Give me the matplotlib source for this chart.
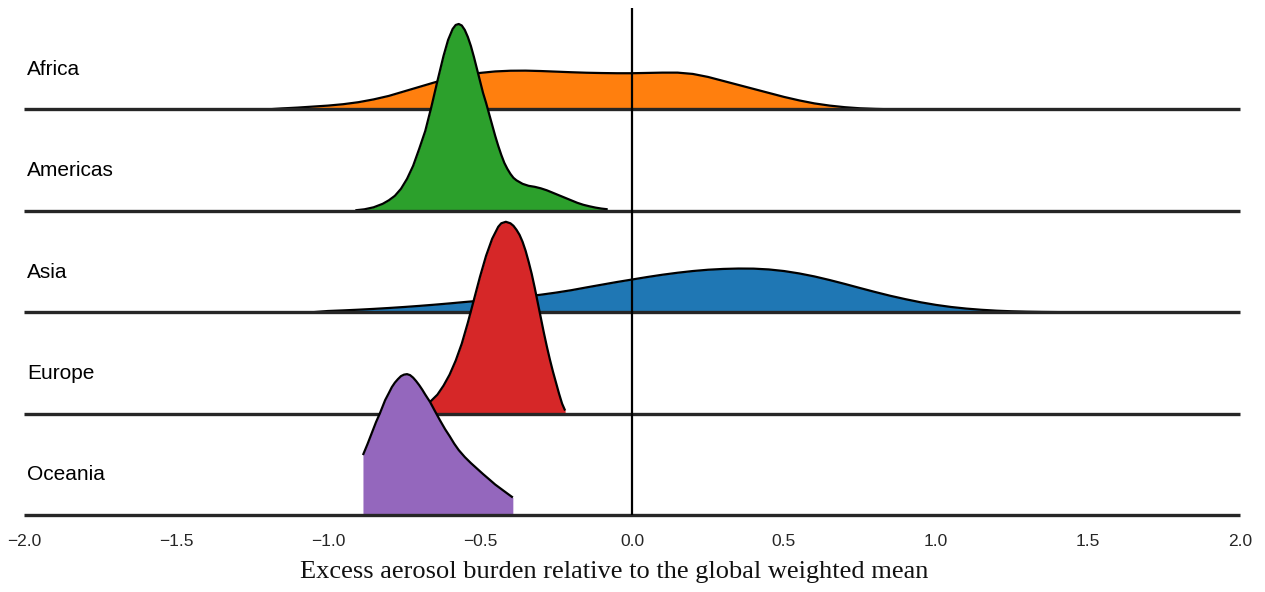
import matplotlib
matplotlib.use("Agg")
import matplotlib.pyplot as plt
import numpy as np

# ---------------- data ----------------
regions = ["Africa", "Americas", "Asia", "Europe", "Oceania"]
colors = ["#ff7f0e", "#2ca02c", "#1f77b4", "#d62728", "#9467bd"]

africa_x = [-1.20, -1.15, -1.10, -1.05, -1.00, -0.95, -0.90, -0.85, -0.80, -0.75, -0.70,
            -0.65, -0.60, -0.55, -0.50, -0.45, -0.40, -0.35, -0.30, -0.25, -0.20, -0.15,
            -0.10, -0.05, 0.00, 0.05, 0.10, 0.15, 0.20, 0.25, 0.30, 0.35, 0.40, 0.45,
            0.50, 0.55, 0.60, 0.65, 0.70, 0.75, 0.80, 0.85, 0.88]
africa_h = [0.0, 1.0, 1.8, 2.8, 3.8, 5.2, 7.2, 10.0, 13.5, 18.0, 22.5,
            27.0, 31.0, 34.0, 36.5, 38.0, 38.7, 38.8, 38.4, 37.8, 37.2, 36.7,
            36.4, 36.2, 36.2, 36.5, 36.8, 36.8, 35.5, 32.5, 28.5, 24.5, 20.5, 16.5,
            12.5, 9.0, 6.0, 3.8, 2.2, 1.1, 0.5, 0.1, 0.0]

americas_x = [-0.91, -0.88, -0.85, -0.82, -0.80, -0.78, -0.76, -0.74, -0.72, -0.70, -0.68,
              -0.66, -0.64, -0.62, -0.605, -0.59, -0.58, -0.57, -0.56, -0.55, -0.54,
              -0.53, -0.52, -0.51, -0.50, -0.49, -0.48, -0.47, -0.46, -0.45, -0.44,
              -0.43, -0.42, -0.41, -0.40, -0.39, -0.38, -0.36, -0.34, -0.32, -0.30,
              -0.28, -0.26, -0.24, -0.22, -0.20, -0.18, -0.16, -0.14, -0.12, -0.10, -0.08]
americas_h = [0.5, 1.5, 3.5, 7.0, 10.5, 15.0, 22.0, 32.0, 45.0, 62.0, 80.0,
              104.0, 130.0, 155.0, 171.0, 182.0, 186.0, 187.0, 185.5, 181.0, 174.0,
              165.0, 154.0, 142.0, 130.0, 118.0, 108.0, 97.0, 86.0, 75.0, 65.0,
              56.0, 48.0, 42.0, 37.0, 33.0, 30.5, 27.0, 25.0, 24.0, 22.5,
              20.5, 18.0, 15.5, 13.0, 10.5, 8.0, 6.0, 4.5, 3.2, 2.2, 1.5]

asia_x = [-1.05, -1.00, -0.95, -0.90, -0.85, -0.80, -0.75, -0.70, -0.65, -0.60, -0.55,
          -0.50, -0.45, -0.40, -0.35, -0.30, -0.25, -0.20, -0.15, -0.10, -0.05, 0.00,
          0.05, 0.10, 0.15, 0.20, 0.25, 0.30, 0.35, 0.40, 0.45, 0.50, 0.55, 0.60,
          0.65, 0.70, 0.75, 0.80, 0.85, 0.90, 0.95, 1.00, 1.05, 1.10, 1.15, 1.20,
          1.25, 1.30, 1.35, 1.40, 1.45]
asia_h = [0.0, 1.2, 1.8, 2.5, 3.3, 4.2, 5.2, 6.3, 7.5, 8.8, 10.2,
          11.5, 12.8, 14.2, 15.7, 17.5, 19.6, 22.0, 24.8, 27.5, 30.2, 32.7,
          35.2, 37.5, 39.5, 41.2, 42.5, 43.3, 43.7, 43.6, 42.8, 41.2, 38.8, 35.8,
          32.2, 28.3, 24.2, 20.2, 16.4, 13.0, 9.9, 7.3, 5.2, 3.6, 2.4, 1.5,
          0.9, 0.5, 0.25, 0.1, 0.0]

europe_x = [-0.76, -0.74, -0.72, -0.70, -0.68, -0.66, -0.64, -0.62, -0.60, -0.58, -0.56,
            -0.54, -0.52, -0.50, -0.48, -0.46, -0.44, -0.43, -0.415, -0.40, -0.39,
            -0.38, -0.37, -0.36, -0.35, -0.34, -0.33, -0.32, -0.31, -0.30, -0.29,
            -0.28, -0.27, -0.26, -0.25, -0.24, -0.23, -0.22]
europe_h = [0.5, 1.5, 3.0, 5.0, 8.0, 13.0, 19.0, 28.0, 39.0, 53.0, 70.0,
            91.0, 114.0, 137.0, 158.0, 175.0, 187.0, 190.5, 192.0, 190.5, 188.0,
            184.0, 179.0, 172.0, 163.0, 152.0, 140.0, 126.0, 111.0, 96.0, 81.0,
            67.0, 54.0, 42.0, 31.0, 20.0, 10.0, 3.0]

oceania_x = [-0.885, -0.87, -0.856, -0.842, -0.829, -0.812, -0.80, -0.79, -0.78, -0.77,
             -0.76, -0.75, -0.74, -0.73, -0.72, -0.71, -0.70, -0.69, -0.68, -0.664,
             -0.65, -0.632, -0.615, -0.60, -0.585, -0.57, -0.55, -0.53, -0.51, -0.49,
             -0.467, -0.45, -0.43, -0.41, -0.392]
oceania_h = [60.0, 71.0, 82.0, 93.0, 102.0, 115.0, 122.0, 128.0, 132.5, 136.0,
             139.0, 140.5, 141.0, 140.0, 137.5, 134.0, 130.0, 125.5, 120.5, 113.0,
             105.0, 95.0, 86.0, 79.0, 71.5, 65.0, 58.0, 52.0, 46.5, 41.0,
             35.0, 30.5, 26.0, 21.5, 17.5]

xs = [africa_x, americas_x, asia_x, europe_x, oceania_x]
hs = [africa_h, americas_h, asia_h, europe_h, oceania_h]

xticks = [-2.0, -1.5, -1.0, -0.5, 0.0, 0.5, 1.0, 1.5, 2.0]
xlabel = "Excess aerosol burden relative to the global weighted mean"

# ---------------- figure ----------------
W, H = 1265, 592
fig = plt.figure(figsize=(W / 100, H / 100), dpi=100)
ax = fig.add_axes([24 / W, (H - 515) / H, (1240 - 24) / W, (515 - 8) / H])
ax.set_xlim(-2, 2)
ax.set_ylim(0, 5)

ridge_scale = 1 / 101.5  # density height -> row units
n = len(regions)
for i, (name, c, x, h) in enumerate(zip(regions, colors, xs, hs)):
    base = n - 1 - i
    x = np.asarray(x)
    y = base + np.asarray(h) * ridge_scale
    z = 10 + 3 * i
    ax.fill_between(x, base, y, color=c, lw=0, zorder=z)
    ax.plot(x, y, color="black", lw=1.6, zorder=z + 1, solid_capstyle="butt",
            solid_joinstyle="round")
    ax.plot([-2, 2], [base, base], color="#262626", lw=2.4, zorder=z + 2,
            solid_capstyle="butt", clip_on=False)
    ax.text(-1.99, base + 0.342, name, fontsize=15, family="Liberation Sans",
            color="black", va="baseline", ha="left", zorder=z + 2)

ax.axvline(0, color="black", lw=1.6, zorder=100)

for s in ax.spines.values():
    s.set_visible(False)
ax.set_yticks([])
ax.set_xticks(xticks)
ax.set_xticklabels([f"{t:.1f}".replace("-", "\u2212") for t in xticks])
ax.tick_params(axis="x", length=0, pad=14, labelsize=12.5, labelcolor="#262626")
for lab in ax.get_xticklabels():
    lab.set_family("Liberation Sans")

fig.text(614 / W, (H - 577.7) / H, xlabel, ha="center", va="baseline",
         fontsize=19, family="Liberation Serif", color="#111111")

fig.savefig("out.png", dpi=100, facecolor="white")
